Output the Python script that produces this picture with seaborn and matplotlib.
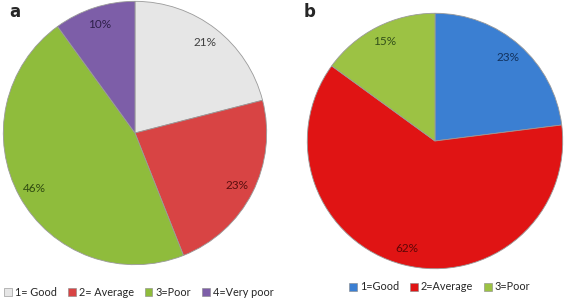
import matplotlib
matplotlib.use('Agg')
import matplotlib.pyplot as plt
from matplotlib.patches import Patch
import seaborn as sns

# panel a: rating distribution
labels_a = ['1= Good', '2= Average', '3=Poor', '4=Very poor']
values_a = [21, 23, 46, 10]
colors_a = ['#e6e6e6', '#d84444', '#8fbc3c', '#7d5ea8']
text_a = ['#404040', '#5a0e0e', '#2f4a10', '#2e1f4a']

# panel b: rating distribution
labels_b = ['1=Good', '2=Average', '3=Poor']
values_b = [23, 62, 15]
colors_b = ['#3b7fd2', '#e01414', '#9cc244']
text_b = ['#12325e', '#5e0606', '#33501a']

sns.set_style('white')
plt.rcParams['font.family'] = ['Lato', 'DejaVu Sans']

W, H = 567, 299
fig = plt.figure(figsize=(W / 100, H / 100), dpi=100)


def px_axes(cx, cy, r):
    # axes box from a pixel centre and radius
    return fig.add_axes([(cx - r) / W, (H - cy - r) / H, 2 * r / W, 2 * r / H])


def draw_pie(ax, values, colors, txt_colors):
    wedges, texts = ax.pie(values, colors=colors, startangle=90, counterclock=False,
                           labels=['{:d}%'.format(v) for v in values], labeldistance=0.87,
                           wedgeprops={'edgecolor': '#9a9a9a', 'linewidth': 0.6},
                           textprops={'fontsize': 8.5})
    for t, c in zip(texts, txt_colors):
        t.set_color(c)
        t.set_horizontalalignment('center')
        t.set_verticalalignment('center')
    ax.set_xlim(-1.01, 1.01)
    ax.set_ylim(-1.01, 1.01)
    ax.set_aspect('equal')
    ax.axis('off')


ax_a = px_axes(135, 133, 133)
draw_pie(ax_a, values_a, colors_a, text_a)
ax_b = px_axes(435, 141, 129)
draw_pie(ax_b, values_b, colors_b, text_b)

# panel letters
fig.text(9 / W, 1 - 12 / H, 'a', fontsize=12, fontweight='bold', va='center', ha='left', family='DejaVu Sans')
fig.text(304 / W, 1 - 12 / H, 'b', fontsize=12, fontweight='bold', va='center', ha='left', family='DejaVu Sans')

leg_kw = dict(frameon=False, fontsize=7.8, handlelength=0.7, handleheight=0.7, handletextpad=0.3,
              columnspacing=1.0, borderpad=0, loc='center')
fig.legend(handles=[Patch(facecolor=c, edgecolor='#888888', linewidth=0.4, label=l) for l, c in zip(labels_a, colors_a)],
           ncol=4, bbox_to_anchor=(139 / W, 1 - 292 / H), **leg_kw)
fig.legend(handles=[Patch(facecolor=c, edgecolor='#888888', linewidth=0.4, label=l) for l, c in zip(labels_b, colors_b)],
           ncol=3, bbox_to_anchor=(440 / W, 1 - 287 / H), **leg_kw)

fig.savefig('out.png', dpi=100)
